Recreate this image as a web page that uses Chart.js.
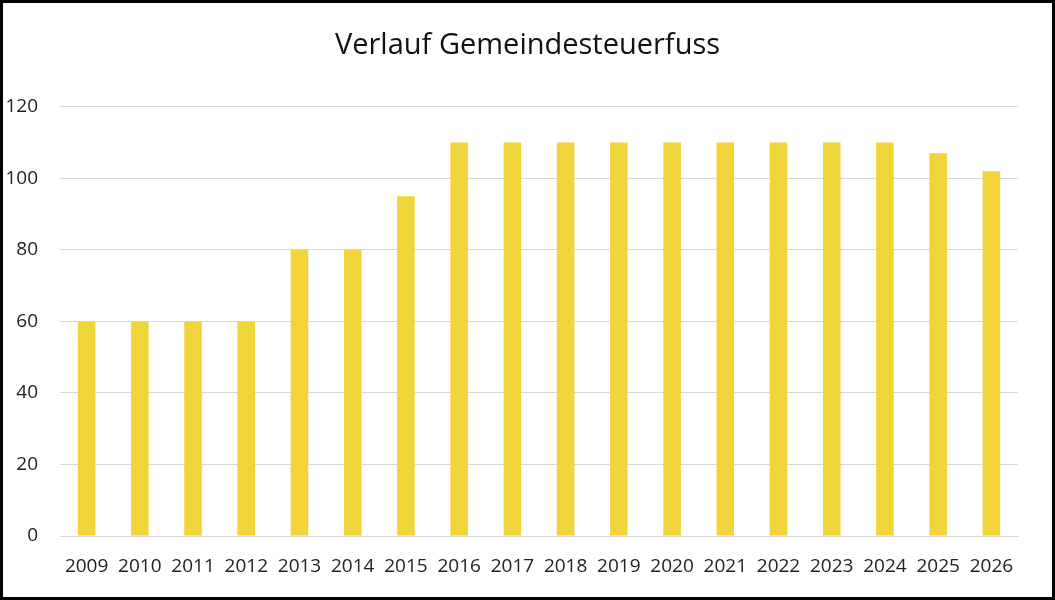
<!DOCTYPE html>
<html>
<head>
<meta charset="utf-8">
<script src="https://cdn.jsdelivr.net/npm/chart.js@4"></script>
<style>
  html, body { margin: 0; padding: 0; background: #fff; }
  .frame {
    width: 1055px; height: 600px; box-sizing: border-box;
    border: 3px solid #000; background: #fff;
  }
  .frame canvas { display: block; }
</style>
</head>
<body>
<div class="frame">
  <canvas id="taxChart" width="1049" height="594"></canvas>
</div>
<script>
const years = ['2009', '2010', '2011', '2012', '2013', '2014', '2015', '2016', '2017',
               '2018', '2019', '2020', '2021', '2022', '2023', '2024', '2025', '2026'];
const steuerfuss = [60, 60, 60, 60, 80, 80, 95, 110, 110, 110, 110, 110, 110, 110, 110, 110, 107, 102];
const yTicks = [0, 20, 40, 60, 80, 100, 120];

const ctx = document.getElementById('taxChart');

new Chart(ctx, {
    type: 'bar',
    data: {
        labels: years,
        datasets: [{
            label: 'Gemeindesteuerfuss',
            data: steuerfuss,
            backgroundColor: '#F0D43A',
            categoryPercentage: 1,
            barPercentage: 0.33
        }]
    },
    options: {
        responsive: false,
        animation: false,
        layout: {
            padding: 0
        },
        plugins: {
            legend: { display: false },
            tooltip: { enabled: false },
            title: {
                display: true,
                text: 'Verlauf Gemeindesteuerfuss',
                color: '#111',
                font: { family: 'Open Sans', size: 29, weight: 'normal' },
                padding: { top: 25, bottom: 44 }
            }
        },
        scales: {
            x: {
                afterFit: (scale) => { scale.height = 61; },
                grid: { display: false, drawTicks: false },
                border: { color: '#d9d9d9', width: 1 },
                ticks: {
                    color: '#222',
                    font: { family: 'Open Sans', size: 19 },
                    padding: 19,
                    maxRotation: 0,
                    autoSkip: false
                }
            },
            y: {
                min: 0,
                max: 120,
                afterBuildTicks: (scale) => {
                    scale.ticks = yTicks.map(v => ({ value: v }));
                },
                afterFit: (scale) => { scale.width = 57; },
                grid: { color: '#d9d9d9', lineWidth: 1, drawTicks: false },
                border: { display: false },
                ticks: {
                    color: '#222',
                    font: { family: 'Open Sans', size: 19 },
                    padding: 22
                }
            },
            // empty right-hand spacer so the title stays centred on the whole frame
            yRight: {
                position: 'right',
                min: 0,
                max: 120,
                afterFit: (scale) => { scale.width = 34; },
                grid: { display: false, drawTicks: false },
                border: { display: false },
                ticks: { display: false }
            }
        }
    }
});
</script>
</body>
</html>
